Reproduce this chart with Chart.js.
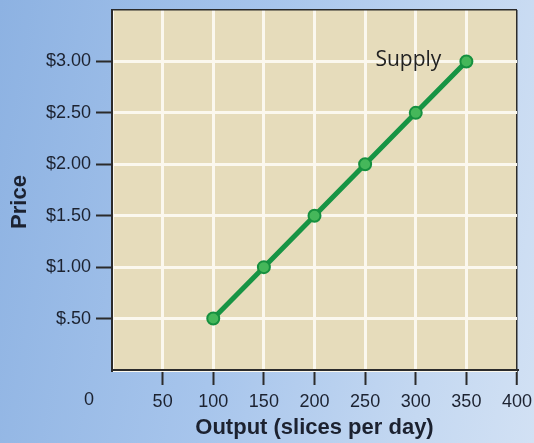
<!DOCTYPE html>
<html>
<head>
<meta charset="utf-8">
<script src="https://cdn.jsdelivr.net/npm/chart.js@4"></script>
<style>
  html, body { margin: 0; padding: 0; }
  body {
    width: 534px; height: 443px; overflow: hidden;
    background: linear-gradient(100deg, #8db2e2 0%, #a7c5ec 45%, #c4d8f1 80%, #d2e1f4 100%);
  }
  canvas { display: block; }
</style>
</head>
<body>
<canvas id="c" width="534" height="443"></canvas>
<script>
// ---- data ----
const outputQty = [100, 150, 200, 250, 300, 350];
const prices = [0.50, 1.00, 1.50, 2.00, 2.50, 3.00];
const xTickLabels = ['50', '100', '150', '200', '250', '300', '350', '400'];
const yTickLabels = ['$.50', '$1.00', '$1.50', '$2.00', '$2.50', '$3.00'];
const seriesLabel = 'Supply';
const xTitle = 'Output (slices per day)';
const yTitle = 'Price';
const originLabel = '0';

const TEXT = '#1c2230';
const GRID = '#fbf8ee';
const AXIS = '#2b2b2b';
const PLOT_BG = '#e6dcbb';

const plotBg = {
  id: 'plotBg',
  beforeDraw(chart) {
    const {ctx, chartArea: a} = chart;
    ctx.save();
    ctx.fillStyle = PLOT_BG;
    ctx.fillRect(a.left, a.top, a.right - a.left, a.bottom - a.top);
    ctx.restore();
  }
};

const extraText = {
  id: 'extraText',
  afterDraw(chart) {
    const {ctx, chartArea: a, scales} = chart;
    ctx.save();
    ctx.fillStyle = TEXT;
    // origin label
    ctx.font = '18px "Liberation Sans", Arial, sans-serif';
    ctx.textAlign = 'center';
    ctx.textBaseline = 'middle';
    ctx.fillText(originLabel, a.left - 23, a.bottom + 30);
    // y title
    ctx.save();
    ctx.translate(a.left - 92, (a.top + a.bottom) / 2 + 12);
    ctx.rotate(-Math.PI / 2);
    ctx.font = 'bold 22px "Liberation Sans", Arial, sans-serif';
    ctx.fillText(yTitle, 0, 0);
    ctx.restore();
    // series label
    const lastX = scales.x.getPixelForValue(outputQty[outputQty.length - 1]);
    const lastY = scales.y.getPixelForValue(prices[prices.length - 1]);
    ctx.font = '21px "Open Sans", "Noto Sans", sans-serif';
    ctx.textAlign = 'right';
    ctx.textBaseline = 'alphabetic';
    ctx.fillStyle = '#222222';
    ctx.fillText(seriesLabel, lastX - 25, lastY + 5);
    ctx.restore();
  }
};

new Chart(document.getElementById('c'), {
  type: 'line',
  data: {
    datasets: [{
      label: seriesLabel,
      data: outputQty.map((x, i) => ({x: x, y: prices[i]})),
      borderColor: '#179444',
      borderWidth: 5,
      backgroundColor: '#3fb457',
      pointBackgroundColor: '#45b75a',
      pointBorderColor: '#16903f',
      pointBorderWidth: 2,
      pointRadius: 6,
      tension: 0,
      fill: false
    }]
  },
  options: {
    responsive: false,
    animation: false,
    devicePixelRatio: 1,
    layout: { padding: { top: 10, right: 17, left: 0, bottom: 0 } },
    plugins: {
      legend: { display: false },
      tooltip: { enabled: false },
      title: { display: false }
    },
    scales: {
      x: {
        type: 'linear',
        min: 0, max: 400,
        ticks: {
          stepSize: 50,
          color: TEXT,
          padding: 6,
          maxRotation: 0,
          font: { family: '"Liberation Sans", Arial, sans-serif', size: 18 },
          callback: (v) => {
            const i = Math.round(v / 50) - 1;
            return i >= 0 ? xTickLabels[i] : '';
          }
        },
        grid: {
          color: (c) => c.tick && c.tick.value === 400 ? AXIS : GRID,
          lineWidth: (c) => c.tick && c.tick.value === 400 ? 1.5 : 3,
          tickColor: (c) => c.tick && c.tick.value === 0 ? 'rgba(0,0,0,0)' : AXIS,
          tickWidth: 2,
          tickLength: 15,
          drawTicks: true
        },
        border: { display: true, color: AXIS, width: 2 },
        title: {
          display: true,
          text: xTitle,
          color: TEXT,
          font: { family: '"Liberation Sans", Arial, sans-serif', size: 22, weight: 'bold' },
          padding: { top: 0, bottom: 2 }
        },
        afterFit: (s) => { s.height = 73; s.paddingLeft = 0; s.paddingRight = 0; }
      },
      y: {
        type: 'linear',
        min: 0, max: 3.5,
        ticks: {
          stepSize: 0.5,
          color: TEXT,
          padding: 5,
          font: { family: '"Liberation Sans", Arial, sans-serif', size: 18 },
          callback: (v) => {
            const i = Math.round(v / 0.5) - 1;
            return (i >= 0 && i < yTickLabels.length) ? yTickLabels[i] : '';
          }
        },
        grid: {
          color: (c) => c.tick && c.tick.value === 3.5 ? AXIS : GRID,
          lineWidth: (c) => c.tick && c.tick.value === 3.5 ? 1.5 : 3,
          tickColor: (c) => c.tick && (c.tick.value === 0 || c.tick.value === 3.5) ? 'rgba(0,0,0,0)' : AXIS,
          tickWidth: 2,
          tickLength: 16
        },
        border: { display: true, color: AXIS, width: 2 },
        afterFit: (s) => { s.width = 112; s.paddingTop = 0; s.paddingBottom = 0; }
      }
    }
  },
  plugins: [plotBg, extraText]
});
</script>
</body>
</html>
